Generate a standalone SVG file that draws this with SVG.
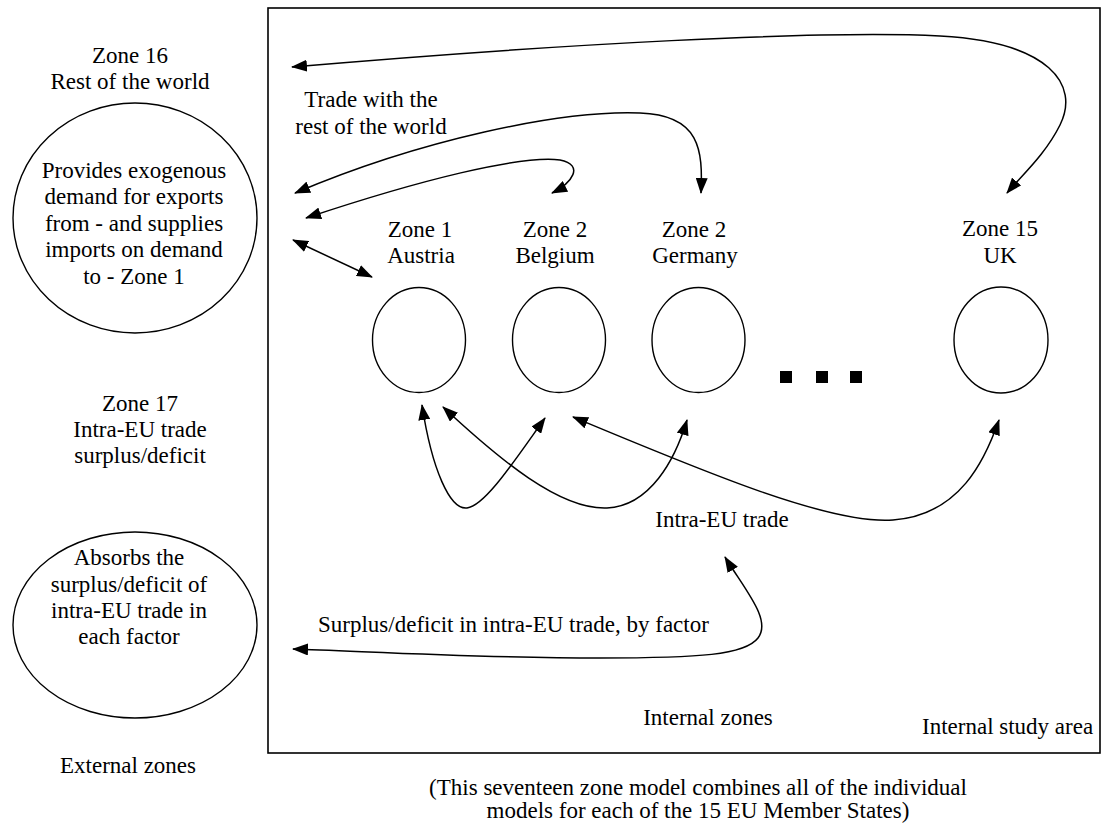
<svg xmlns="http://www.w3.org/2000/svg" width="1109" height="825" viewBox="0 0 1109 825">
  <style>
    text { font-family: "Liberation Serif", "Times New Roman", serif; font-size: 23px; fill: #000; }
    .c { text-anchor: middle; }
    .zone { fill: none; stroke: #000; stroke-width: 1.4; }
    .flow { fill: none; stroke: #000; stroke-width: 1.5; marker-start: url(#head); marker-end: url(#head); }
  </style>
  <defs>
    <marker id="head" viewBox="0 0 16 12" refX="15" refY="6" markerWidth="16" markerHeight="12" markerUnits="userSpaceOnUse" orient="auto-start-reverse">
      <path d="M0,0 L16,6 L0,12 z" fill="#000"/>
    </marker>
  </defs>
  <rect width="1109" height="825" fill="#fff"/>

  <!-- internal study area frame -->
  <rect id="study-area" x="268" y="8" width="832" height="745" fill="none" stroke="#000" stroke-width="1.6"/>

  <!-- external zones -->
  <g id="zone16">
    <text class="c" x="130" y="63">Zone 16</text>
    <text class="c" x="130" y="89">Rest of the world</text>
    <ellipse class="zone" cx="135" cy="218" rx="122" ry="115"/>
    <text class="c" x="134" y="178">Provides exogenous</text>
    <text class="c" x="134" y="204">demand for exports</text>
    <text class="c" x="134" y="231">from - and supplies</text>
    <text class="c" x="134" y="257">imports on demand</text>
    <text class="c" x="134" y="284">to - Zone 1</text>
  </g>
  <g id="zone17">
    <text class="c" x="140" y="411">Zone 17</text>
    <text class="c" x="140" y="437">Intra-EU trade</text>
    <text class="c" x="140" y="463">surplus/deficit</text>
    <ellipse class="zone" cx="135" cy="625" rx="122" ry="93"/>
    <text class="c" x="129" y="565">Absorbs the</text>
    <text class="c" x="129" y="592">surplus/deficit of</text>
    <text class="c" x="129" y="618">intra-EU trade in</text>
    <text class="c" x="129" y="644">each factor</text>
  </g>
  <text id="external-label" class="c" x="128" y="773">External zones</text>

  <!-- internal zones -->
  <g id="zone1">
    <text class="c" x="420" y="237">Zone 1</text>
    <text class="c" x="421" y="263">Austria</text>
    <ellipse class="zone" cx="419" cy="340" rx="46.5" ry="52.5"/>
  </g>
  <g id="zone2-belgium">
    <text class="c" x="555" y="237">Zone 2</text>
    <text class="c" x="555" y="263">Belgium</text>
    <ellipse class="zone" cx="559" cy="340" rx="46.5" ry="52.5"/>
  </g>
  <g id="zone2-germany">
    <text class="c" x="694" y="237">Zone 2</text>
    <text class="c" x="695" y="263">Germany</text>
    <ellipse class="zone" cx="698.5" cy="340" rx="46.5" ry="52.5"/>
  </g>
  <g id="ellipsis">
    <rect x="780" y="371" width="12" height="12" fill="#000"/>
    <rect x="816" y="371" width="12" height="12" fill="#000"/>
    <rect x="850" y="371" width="12" height="12" fill="#000"/>
  </g>
  <g id="zone15">
    <text class="c" x="1000" y="236">Zone 15</text>
    <text class="c" x="1000" y="263">UK</text>
    <ellipse class="zone" cx="1001" cy="340" rx="47" ry="53"/>
  </g>

  <!-- trade flows -->
  <g id="connectors">
    <path class="flow" d="M292,67 C560,44 820,30 940,36 C1050,42 1080,85 1060,125 C1045,155 1022,175 1007,193"/>
    <path class="flow" d="M295,193 C420,140 560,110 640,113 C700,115 703,150 701,193"/>
    <path class="flow" d="M306,218 C420,180 520,155 560,160 C585,165 572,183 552,193"/>
    <path class="flow" d="M293,240 L372,277"/>
    <path class="flow" d="M422,405 C432,470 450,510 467,508 C485,506 515,460 545,418"/>
    <path class="flow" d="M443,407 C500,460 560,510 607,508 C650,506 675,460 687,420"/>
    <path class="flow" d="M573,417 C700,470 830,525 893,520 C960,515 985,460 999,420"/>
    <path class="flow" d="M725,557 C745,590 772,620 758,638 C745,655 700,658 600,658 C480,658 360,651 293,649"/>
  </g>

  <!-- flow labels -->
  <text class="c" x="371" y="107">Trade with the</text>
  <text class="c" x="371" y="134">rest of the world</text>
  <text class="c" x="722" y="527">Intra-EU trade</text>
  <text x="318" y="632">Surplus/deficit in intra-EU trade, by factor</text>
  <text class="c" x="708" y="725">Internal zones</text>
  <text x="922" y="734">Internal study area</text>

  <!-- caption -->
  <text class="c" x="698" y="795">(This seventeen zone model combines all of the individual</text>
  <text class="c" x="698" y="818">models for each of the 15 EU Member States)</text>
</svg>
